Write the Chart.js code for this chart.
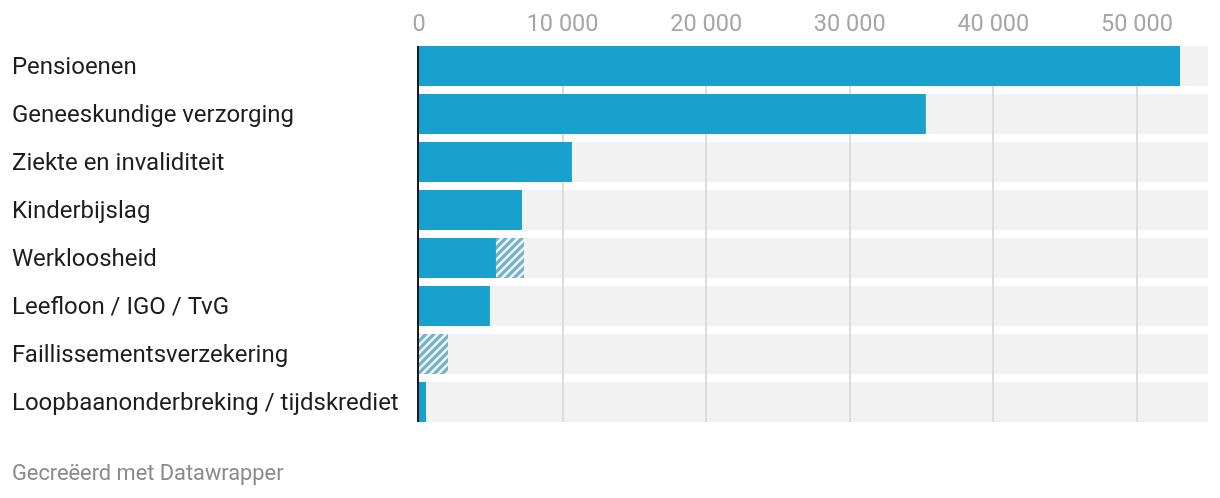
<!DOCTYPE html>
<html>
<head>
<meta charset="utf-8">
<script src="https://cdn.jsdelivr.net/npm/chart.js@4"></script>
<style>
  html, body { margin: 0; padding: 0; background: #fff; }
  #wrap { position: relative; width: 1220px; height: 498px; }
  #footer {
    position: absolute; left: 12px; top: 460px;
    font-family: Roboto, sans-serif; font-size: 21.8px; color: #8a8a8a;
  }
</style>
</head>
<body>
<div id="wrap">
  <canvas id="chartUitgaven" width="1220" height="498"></canvas>
  <div id="footer">Gecreëerd met Datawrapper</div>
</div>
<script>
// Categorieen en waarden
const categorieen = ['Pensioenen', 'Geneeskundige verzorging', 'Ziekte en invaliditeit', 'Kinderbijslag',
    'Werkloosheid', 'Leefloon / IGO / TvG', 'Faillissementsverzekering', 'Loopbaanonderbreking / tijdskrediet'];
const waarden = [53000, 35300, 10650, 7170, 5360, 4940, 0, 490];
const waardenGearceerd = [0, 0, 0, 0, 1950, 0, 2020, 0];
const asMax = 54950;
const asTicks = [0, 10000, 20000, 30000, 40000, 50000];
const achtergrond = categorieen.map(() => asMax);

//Arceerpatroon voor de gearceerde balken
function maakPatroon() {
    const c = document.createElement('canvas');
    c.width = 8;
    c.height = 8;
    const ctx = c.getContext('2d');
    ctx.strokeStyle = '#74b4c9';
    ctx.lineWidth = 3.2;
    ctx.beginPath();
    ctx.moveTo(-2, 10); ctx.lineTo(10, -2);
    ctx.moveTo(-6, 6); ctx.lineTo(6, -6);
    ctx.moveTo(2, 14); ctx.lineTo(14, 2);
    ctx.stroke();
    return ctx.createPattern(c, 'repeat');
}

//Rasterlijnen tussen achtergrond en balken, plus de nullijn
const rasterPlugin = {
    id: 'raster',
    afterDatasetDraw(chart, args) {
        if (args.index !== 2) return;
        const ctx = chart.ctx;
        const x = chart.scales.x;
        const bars = args.meta.data;
        const top = bars[0].y - bars[0].height / 2;
        const bottom = bars[bars.length - 1].y + bars[bars.length - 1].height / 2;
        ctx.save();
        ctx.fillStyle = '#dcdcdc';
        asTicks.forEach(v => {
            if (v === 0) return;
            const px = Math.round(x.getPixelForValue(v));
            ctx.fillRect(px - 1, top, 2, bottom - top);
        });
        ctx.restore();
    },
    afterDatasetsDraw(chart) {
        const ctx = chart.ctx;
        const x = chart.scales.x;
        const meta = chart.getDatasetMeta(2);
        const bars = meta.data;
        const top = bars[0].y - bars[0].height / 2;
        const bottom = bars[bars.length - 1].y + bars[bars.length - 1].height / 2;
        const px = Math.round(x.getPixelForValue(0));
        ctx.save();
        ctx.fillStyle = '#1a1a1a';
        ctx.fillRect(px - 2, top, 2, bottom - top);
        ctx.restore();
    }
};

const grapharea = document.getElementById('chartUitgaven');
const myBarChart = new Chart(grapharea, {
    type: 'bar',
    data: {
        labels: categorieen,
        datasets: [{
            label: 'Uitgaven',
            data: waarden,
            backgroundColor: '#19a1cd',
            stack: 'main',
            grouped: false,
            order: 1
        }, {
            label: 'Gearceerd',
            data: waardenGearceerd,
            backgroundColor: maakPatroon(),
            stack: 'main',
            grouped: false,
            order: 1
        }, {
            label: 'Achtergrond',
            data: achtergrond,
            backgroundColor: '#f2f2f2',
            stack: 'bg',
            grouped: false,
            order: 2
        }]
    },
    options: {
        indexAxis: 'y',
        responsive: false,
        animation: false,
        events: [],
        datasets: {
            bar: {
                categoryPercentage: 1,
                barPercentage: 40 / 48,
                borderWidth: 0,
                borderSkipped: false
            }
        },
        layout: {
            padding: { left: 12, right: 12, top: 0, bottom: 72 }
        },
        plugins: {
            legend: { display: false },
            tooltip: { enabled: false }
        },
        scales: {
            x: {
                position: 'top',
                stacked: true,
                min: 0,
                max: asMax,
                afterFit: (scale) => { scale.height = 42; },
                grid: { display: false, drawTicks: false },
                border: { display: false },
                afterBuildTicks: (scale) => {
                    scale.ticks = asTicks.map(v => ({ value: v }));
                },
                ticks: {
                    padding: 3,
                    color: '#a6a6a6',
                    font: { family: 'Roboto', size: 23.5 },
                    maxRotation: 0,
                    callback: (v) => String(v).replace(/\B(?=(\d{3})+(?!\d))/g, ' ')
                }
            },
            y: {
                stacked: true,
                afterFit: (scale) => { scale.width = 407; },
                grid: { display: false, drawTicks: false },
                border: { display: false },
                ticks: {
                    crossAlign: 'far',
                    padding: 0,
                    labelOffset: 2,
                    color: '#1d1d1d',
                    font: { family: 'Roboto', size: 24 }
                }
            }
        }
    },
    plugins: [rasterPlugin]
});
</script>
</body>
</html>
